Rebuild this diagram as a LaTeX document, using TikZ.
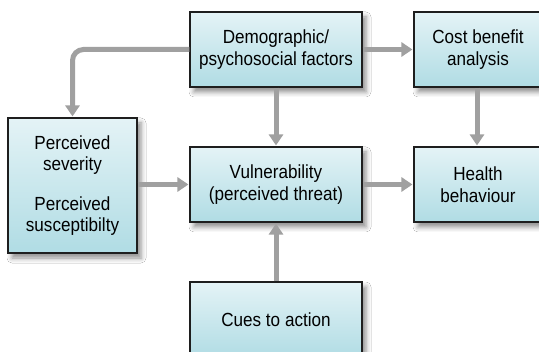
\documentclass[tikz,border=0pt]{standalone}
\usepackage{fontspec}
\setmainfont[FakeStretch=0.9]{Liberation Sans}
\usetikzlibrary{arrows.meta,shadows.blur}

\definecolor{boxtop}{RGB}{228,243,246}
\definecolor{boxbottom}{RGB}{176,220,228}
\definecolor{boxline}{RGB}{30,30,30}
\definecolor{flow}{RGB}{160,160,160}

\tikzset{
  card/.style={
    draw=boxline, line width=1.1pt,
    top color=boxtop, bottom color=boxbottom,
    blur shadow={shadow xshift=4pt, shadow yshift=-5pt, shadow blur radius=5pt, shadow opacity=45},
    align=center, inner sep=0pt,
    font=\fontsize{19}{21.5}\selectfont
  },
  flowarrow/.style={
    draw=flow, line width=5pt,
    -{Triangle[width=14pt,length=11pt]},
    shorten >=1pt
  }
}

\begin{document}
\begin{tikzpicture}[x=1pt,y=-1pt]
  \useasboundingbox[fill=white] (0,0) rectangle (539,352);

  % boxes (centre, size)
  \node[card, minimum width=172pt, minimum height=75pt] (demo)   at (276,49.5)
    {Demographic/\\psychosocial factors};
  \node[card, minimum width=128pt, minimum height=75pt] (cost)   at (478,49.5)
    {Cost benefit\\analysis};
  \node[card, minimum width=129pt, minimum height=135pt] (perc)  at (72.5,185.5)
    {Perceived\\severity\\[18pt]Perceived\\susceptibilty};
  \node[card, minimum width=172pt, minimum height=75pt] (vuln)   at (276,184.5)
    {Vulnerability\\(perceived threat)};
  \node[card, minimum width=128pt, minimum height=75pt] (health) at (478,184.5)
    {Health\\behaviour};
  \node[card, minimum width=172pt, minimum height=76pt] (cues)   at (276,320)
    {Cues to action};

  % connectors
  \draw[flowarrow, rounded corners=11pt] (demo.west) -| (perc.north);
  \draw[flowarrow] (demo.east) -- (cost.west);
  \draw[flowarrow] (demo.south) -- (vuln.north);
  \draw[flowarrow] (cost.south -| 477,0) -- (health.north -| 477,0);
  \draw[flowarrow] (perc.east |- vuln.west) -- (vuln.west);
  \draw[flowarrow] (vuln.east) -- (health.west);
  \draw[flowarrow] (cues.north) -- (vuln.south);
\end{tikzpicture}
\end{document}
